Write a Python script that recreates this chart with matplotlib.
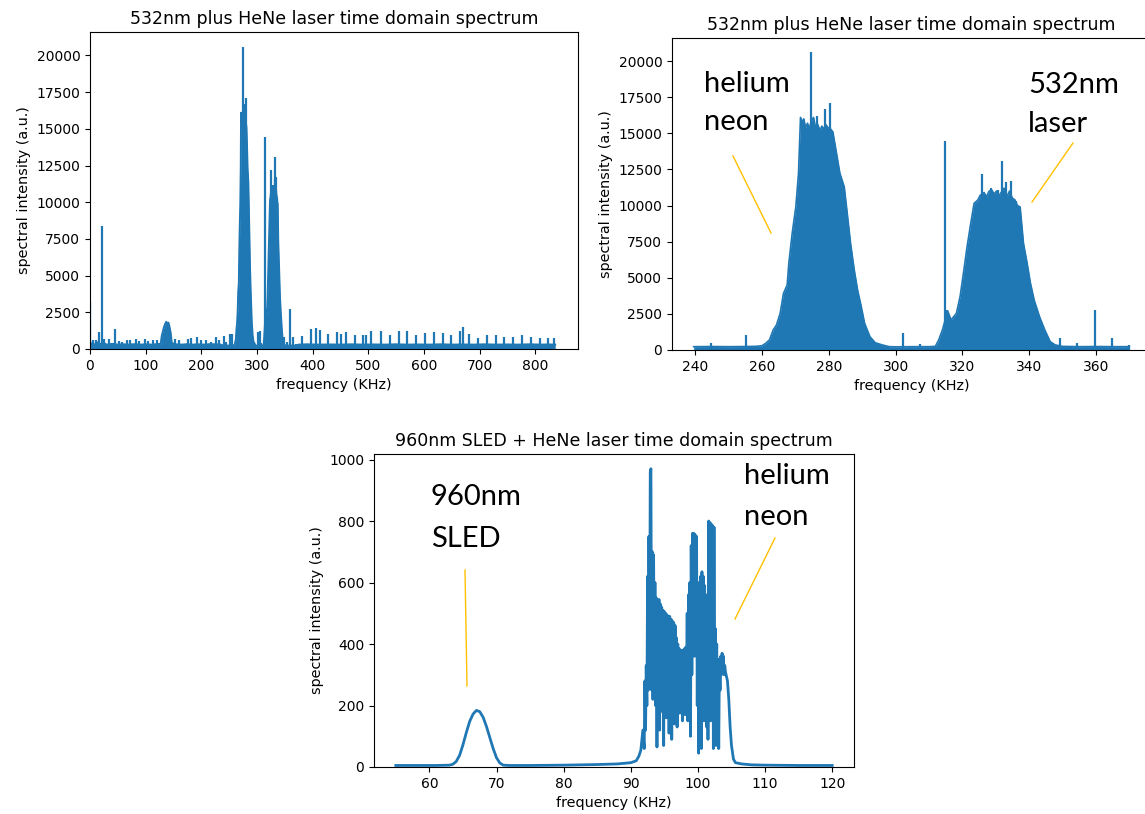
import matplotlib
matplotlib.use("Agg")
import numpy as np
from matplotlib import pyplot as plt
from matplotlib.lines import Line2D

W, H = 1145, 814
BLUE = "#1f77b4"
GOLD = "#FFC000"

# --- zoomed 532nm + HeNe spectrum (240-370 KHz): envelope of the dense trace
tr_freq = [239.5, 245, 250, 255, 258, 260, 261, 262.2, 263.3, 264.3, 265.4, 266.4,
           267.5, 268.0, 269.0, 270.1, 270.9, 271.5, 272.0, 272.5, 273.0, 273.6,
           274.1, 274.8, 275.4, 276.0, 276.7, 277.3, 277.9, 278.4, 279.1, 279.7,
           280.5, 281.2, 282.3, 283.3, 284.6, 285.5, 286.5, 287.6, 288.6, 289.7,
           290.7, 292.3, 293.9, 296.0, 298.1, 300, 305, 310, 311.9, 312.9, 314.0,
           315.6, 316.6, 318.2, 319.3, 320.3, 321.4, 322.5, 323.5, 324.6, 325.3,
           326.5, 327.2, 328.0, 328.8, 329.5, 330.2, 331.0, 332.5, 333.3, 334.1,
           335.0, 335.7, 336.5, 337.3, 338.3, 339.4, 340.4, 341.5, 343.1, 344.7,
           346.3, 347.8, 350, 355, 360, 365, 370]
tr_level = [230, 240, 230, 240, 250, 300, 450, 700, 1380, 1730, 2540, 3920,
            4500, 6000, 8070, 9920, 12230, 16100, 15800, 16000, 15400, 15700,
            15300, 15900, 16100, 15400, 15600, 15200, 15500, 15300, 15600, 15400,
            15300, 15100, 13600, 12230, 11300, 9460, 7380, 5540, 4150, 3000,
            1850, 920, 500, 350, 230, 220, 230, 230, 250, 700, 1380,
            2700, 2080, 2540, 3690, 5300, 7150, 8770, 10150, 10380, 10700,
            10900, 10600, 11000, 11070, 10800, 11000, 10700, 11200, 10600, 11000,
            10500, 10400, 10000, 9900, 7380, 6000, 4610, 3460, 2310, 1380,
            580, 350, 250, 230, 240, 230, 230]
# narrow spikes standing above the envelope
tr_spike_freq = [244.8, 255.3, 274.5, 276.4, 278.7, 280.3, 302.2, 307.2, 314.8, 315.5,
                 326.0, 328.6, 330.6, 331.9, 333.1, 334.5, 336.0, 349.1, 354.4,
                 359.8, 364.7, 369.8]
tr_spike_level = [500, 1040, 20600, 16200, 16700, 17100, 1150, 400, 14450, 2800,
                  12200, 11200, 11100, 13050, 11650, 11700, 10300, 800, 450,
                  2750, 850, 350]

# --- full spectrum (0-837 KHz): parts outside the zoomed window
tl_low_freq = [0, 4, 9, 13, 18, 25, 30, 40, 50, 60, 70, 80, 90, 100, 110, 120, 127,
               129, 131, 133, 135, 137, 139, 141, 143, 145, 147, 155, 165, 175, 185,
               195, 205, 215, 225, 235]
tl_low_level = [350, 400, 300, 450, 350, 400, 300, 350, 300, 320, 300, 330, 300, 320,
                300, 330, 350, 900, 1200, 1500, 1700, 1850, 1750, 1800, 1500, 1100,
                400, 320, 300, 330, 300, 320, 300, 330, 320, 300]
tl_high_freq = [375, 390, 410, 430, 450, 470, 490, 510, 530, 550, 570, 590, 610, 630,
                650, 670, 690, 710, 730, 750, 770, 790, 810, 825, 836]
tl_high_level = [300, 320, 300, 310, 300, 320, 300, 310, 300, 320, 300, 310, 300, 320,
                 300, 310, 300, 320, 300, 310, 300, 320, 300, 310, 300]
tl_spike_freq = [0.5, 5, 10, 16.5, 22, 26, 35, 44.8, 52, 58, 66, 72, 82, 88, 98, 104,
                 114, 120, 152, 160, 176, 182, 193, 199, 209, 217, 226, 232, 240, 252,
                 305, 381, 397, 406, 413.5, 428, 443, 451, 459.5, 476, 491, 496, 505.7,
                 523.5, 538.6, 555, 570, 586.7, 602.5, 618, 634, 649, 665.7, 671, 682,
                 698, 713, 729.6, 744.7, 760.5, 776.8, 792, 808.6, 823, 834]
tl_spike_level = [3200, 600, 620, 1130, 8400, 700, 700, 1340, 550, 500, 620, 620, 700,
                  550, 700, 550, 600, 580, 650, 600, 700, 780, 790, 600, 580, 500, 850,
                  600, 880, 1000, 1200, 890, 1340, 1400, 1300, 1000, 1130, 1000, 1130,
                  980, 980, 980, 1250, 1220, 940, 1250, 1250, 940, 1070, 1190, 1070,
                  930, 1200, 1530, 1020, 780, 970, 970, 830, 830, 920, 830, 770, 720,
                  720]

# --- 960nm SLED + HeNe spectrum
sled_freq = [55, 58, 61, 63, 63.5, 64, 64.5, 65, 65.5, 66, 66.5, 67, 67.5, 68, 68.5,
             69, 69.5, 70, 70.5, 71, 72, 75, 80, 85, 88, 90, 90.8, 91.2, 91.5, 91.8,
             92.0, 92.1, 92.2, 92.3, 92.4, 92.5, 92.6, 92.7, 92.8, 92.9,
             93.0, 93.1, 93.2, 93.3, 93.4, 93.5, 93.6, 93.7, 93.8, 93.9,
             94.0, 94.1, 94.2, 94.3, 94.4, 94.5, 94.6, 94.7, 94.8, 94.9,
             95.0, 95.1, 95.2, 95.3, 95.4, 95.5, 95.6, 95.7, 95.8, 95.9,
             96.0, 96.1, 96.2, 96.3, 96.4, 96.5, 96.6, 96.7, 96.8, 96.9,
             97.0, 97.1, 97.2, 97.3, 97.4, 97.5, 97.6, 97.7, 97.8, 97.9,
             98.0, 98.1, 98.2, 98.3, 98.4, 98.5, 98.6, 98.7, 98.8, 98.9,
             99.0, 99.1, 99.2, 99.3, 99.4, 99.5, 99.6, 99.7, 99.8, 99.9,
             100.0, 100.1, 100.2, 100.3, 100.4, 100.5, 100.6, 100.7, 100.8, 100.9,
             101.0, 101.1, 101.2, 101.3, 101.4, 101.5, 101.6, 101.7, 101.8, 101.9,
             102.0, 102.1, 102.2, 102.3, 102.4, 102.5, 102.6, 102.7, 102.8, 102.9,
             103.0, 103.1, 103.2, 103.3, 103.4, 103.5, 103.6, 103.7, 103.8, 103.9,
             104.0, 104.1, 104.2, 104.3, 104.4, 104.6, 104.8, 105.0, 105.3, 105.6,
             106.5, 108, 110, 115, 120]
sled_level = [5, 5, 5, 6, 9, 18, 38, 72, 112, 148, 172, 184, 180, 162, 132,
              96, 60, 30, 13, 6, 5, 5, 6, 8, 10, 14, 20, 35, 55, 120,
              60, 280, 120, 330, 200, 620, 250, 750, 300, 960,
              970, 250, 700, 220, 690, 300, 600, 200, 550, 65,
              540, 200, 545, 120, 530, 250, 520, 180, 510, 70,
              505, 200, 500, 160, 495, 230, 490, 110, 490, 200,
              480, 90, 475, 250, 470, 140, 460, 220, 420, 130,
              400, 200, 385, 175, 380, 250, 380, 150, 380, 230,
              385, 170, 390, 260, 500, 150, 560, 200, 600, 100,
              720, 300, 760, 400, 760, 360, 755, 480, 750, 200,
              600, 45, 500, 150, 620, 60, 635, 230, 620, 150,
              590, 250, 560, 130, 530, 90, 800, 300, 795, 150,
              790, 400, 785, 60, 780, 200, 450, 70, 400, 150,
              350, 60, 330, 250, 360, 300, 370, 320, 360, 300,
              330, 310, 300, 290, 280, 220, 130, 70, 25, 14,
              10, 7, 6, 5, 5]


def axes_px(left, top, right, bottom):
    return [left / W, 1 - bottom / H, (right - left) / W, (bottom - top) / H]


def style(ax, title):
    ax.set_title(title, fontsize=12.5)
    ax.set_xlabel("frequency (KHz)", fontsize=10.4)
    ax.set_ylabel("spectral intensity (a.u.)", fontsize=10.4)
    ax.tick_params(labelsize=10)


fig = plt.figure(figsize=(W / 100, H / 100), dpi=100)

# top left: whole spectrum
ax1 = fig.add_axes(axes_px(90, 32, 578, 349))
f1 = tl_low_freq + tr_freq + tl_high_freq
v1 = tl_low_level + tr_level + tl_high_level
ax1.fill_between(f1, 0, v1, color=BLUE, lw=0)
ax1.plot(f1, v1, color=BLUE, lw=1.4)
ax1.vlines(tl_spike_freq + tr_spike_freq, 0, tl_spike_level + tr_spike_level,
           color=BLUE, lw=1.6)
ax1.set_xlim(0, 877)
ax1.set_ylim(0, 21600)
style(ax1, "532nm plus HeNe laser time domain spectrum")

# top right: zoom on the two lines
ax2 = fig.add_axes(axes_px(672, 38, 1151, 350))
ax2.fill_between(tr_freq, 0, tr_level, color=BLUE, lw=0)
ax2.plot(tr_freq, tr_level, color=BLUE, lw=1.2)
ax2.vlines(tr_spike_freq, 0, tr_spike_level, color=BLUE, lw=1.6)
ax2.set_xlim(233, 376.5)
ax2.set_ylim(0, 21600)
style(ax2, "532nm plus HeNe laser time domain spectrum")

# bottom: SLED + HeNe
ax3 = fig.add_axes(axes_px(374, 454, 854, 767))
ax3.plot(sled_freq, sled_level, color=BLUE, lw=2)
ax3.set_xlim(51.75, 123.25)
ax3.set_ylim(0, 1018)
style(ax3, "960nm SLED + HeNe laser time domain spectrum")

# slide annotations
labels = [("helium", 704, 92), ("neon", 704, 130),
          ("532nm", 1028, 93), ("laser", 1028, 132),
          ("960nm", 431, 505), ("SLED", 431, 547),
          ("helium", 744, 484), ("neon", 744, 525)]
for txt, x, y in labels:
    fig.text(x / W, 1 - y / H, txt, fontsize=21, family="Lato",
             color="black", va="baseline", ha="left")

pointers = [((733, 156), (771, 233)), ((1073, 143), (1032, 202)),
            ((465, 570), (467, 686)), ((775, 538), (735, 619))]
for (x1, y1), (x2, y2) in pointers:
    fig.add_artist(Line2D([x1 / W, x2 / W], [1 - y1 / H, 1 - y2 / H],
                          transform=fig.transFigure, color=GOLD, lw=1.0))

fig.savefig("out.png", dpi=100)
